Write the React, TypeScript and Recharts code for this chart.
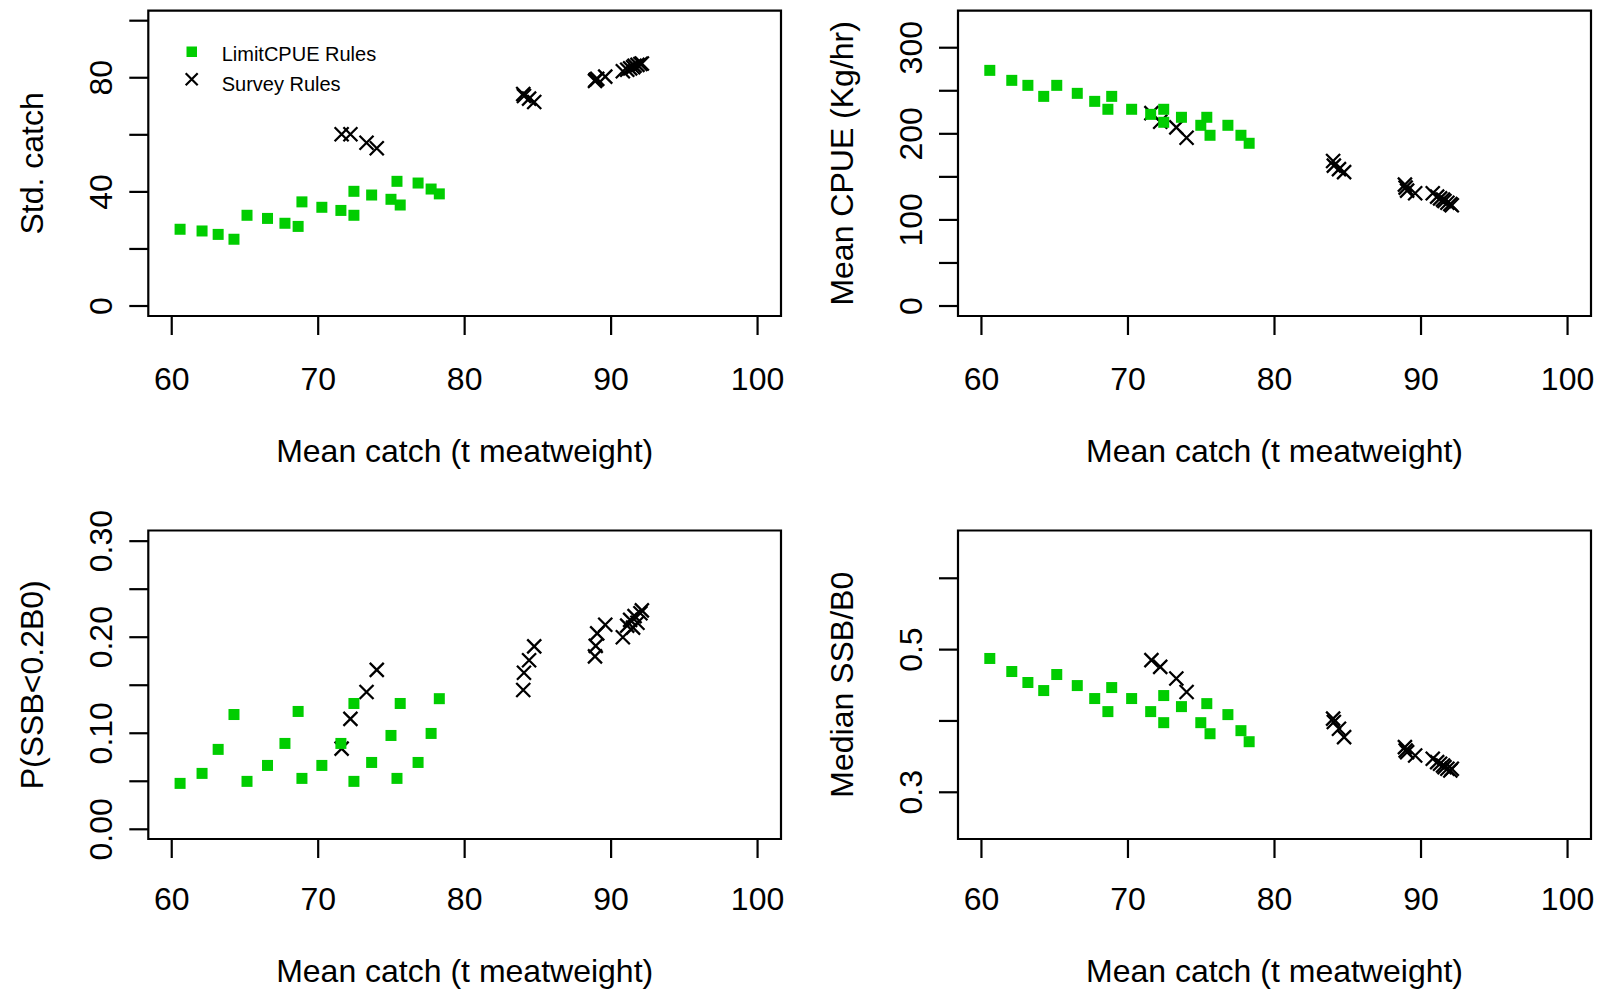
import { ScatterChart, Scatter, XAxis, YAxis, ReferenceArea, Legend } from 'recharts';

const FONT = '"Liberation Sans", Arial, Helvetica, sans-serif';
const GREEN = '#00CD00';
const LIMIT_NAME = 'LimitCPUE Rules';
const SURVEY_NAME = 'Survey Rules';
const X_TITLE = 'Mean catch (t meatweight)';

// LimitCPUE rules
const limitCatch = [60.57, 62.07, 63.17, 64.25, 65.14, 66.54, 67.73, 68.63, 68.89, 70.25, 71.55, 72.44, 72.44, 73.65, 74.97, 75.38, 75.6, 76.82, 77.71, 78.27];
const limitStd = [26.9, 26.3, 25.1, 23.4, 31.8, 30.7, 29.0, 27.9, 36.5, 34.6, 33.5, 40.2, 31.8, 38.9, 37.4, 43.7, 35.4, 43.1, 41.0, 39.3];
const limitCpue = [273.7, 262.1, 256.3, 243.5, 256.3, 247, 237.7, 228.5, 243.5, 228.5, 222.6, 228.5, 213.4, 219.2, 209.9, 219.2, 198.3, 209.9, 198.3, 189];
const limitPLow = [0.0478, 0.0582, 0.0832, 0.1195, 0.0499, 0.0665, 0.0894, 0.1227, 0.053, 0.0665, 0.0894, 0.131, 0.0499, 0.0696, 0.0977, 0.053, 0.131, 0.0696, 0.0998, 0.136];
const limitSsb = [0.4876, 0.4693, 0.4539, 0.4426, 0.4651, 0.4496, 0.4314, 0.4131, 0.4468, 0.4314, 0.4131, 0.4356, 0.3976, 0.4201, 0.3976, 0.4243, 0.3821, 0.4089, 0.3864, 0.3709];

// Survey rules
const surveyCatch = [71.6, 72.2, 73.3, 74.0, 84.0, 84.05, 84.4, 84.75, 88.9, 88.95, 89.05, 89.6, 90.8, 91.1, 91.3, 91.5, 91.6, 91.8, 92.0, 92.1];
const surveyStd = [60.2, 60.2, 57.2, 55.3, 74.3, 73.6, 72.7, 71.5, 78.9, 79.3, 79.6, 80.4, 82.3, 82.8, 83.3, 83.7, 84.2, 84.5, 84.8, 85.0];
const surveyCpue = [224, 214, 207.5, 195.5, 168.5, 163, 159, 155.5, 141, 137.5, 134, 131, 131, 127, 125, 123.5, 122, 120, 118.5, 117];
const surveyPLow = [0.084, 0.115, 0.143, 0.166, 0.145, 0.163, 0.176, 0.1905, 0.18, 0.191, 0.204, 0.213, 0.2, 0.212, 0.218, 0.21, 0.222, 0.215, 0.225, 0.228];
const surveySsb = [0.4852, 0.4758, 0.4595, 0.4406, 0.4032, 0.3985, 0.3891, 0.3774, 0.3633, 0.3586, 0.3563, 0.3516, 0.347, 0.3422, 0.34, 0.3375, 0.3352, 0.3329, 0.3305, 0.333];

const xTicks = [60, 70, 80, 90, 100];
const xDomain = [58.4, 101.6];

const zip = (xs: number[], ys: number[]) => xs.map((x, i) => ({ x, y: ys[i] }));

const Square = (p: any) => <rect x={p.cx - 5.5} y={p.cy - 5.5} width={11} height={11} fill={GREEN} />;
const Cross = (p: any) => (
  <path
    d={`M${p.cx - 7},${p.cy - 7}L${p.cx + 7},${p.cy + 7}M${p.cx + 7},${p.cy - 7}L${p.cx - 7},${p.cy + 7}`}
    stroke="#000"
    strokeWidth={2.3}
    fill="none"
  />
);

const XTick = ({ x, y, payload, off }: any) => (
  <text x={x} y={y + off} textAnchor="middle" fontSize={32} fontFamily={FONT} fill="#000">
    {payload.value}
  </text>
);

const YTick = ({ x, y, index, labels }: any) =>
  labels[index] ? (
    <text transform={`translate(${x - 17.3},${y}) rotate(-90)`} textAnchor="middle" fontSize={32} fontFamily={FONT} fill="#000">
      {labels[index]}
    </text>
  ) : (
    <g />
  );

const LegendBox = () => (
  <svg width={260} height={72}>
    <rect x={16.5} y={16.5} width={10.5} height={10.5} fill={GREEN} />
    <path d="M15.7,43.3L27.7,55.3M27.7,43.3L15.7,55.3" stroke="#000" strokeWidth={2.2} />
    <text x={51.7} y={30.7} fontSize={20} fontFamily={FONT} fill="#000">{LIMIT_NAME}</text>
    <text x={51.7} y={61} fontSize={20} fontFamily={FONT} fill="#000">{SURVEY_NAME}</text>
  </svg>
);

type Box = { l: number; r: number; t: number; b: number };

function Panel(props: {
  left: number;
  top: number;
  width: number;
  height: number;
  box: Box;
  yDomain: number[];
  yTicks: number[];
  yLabels: string[];
  yTitle: string;
  limitY: number[];
  surveyY: number[];
  tickOff: number;
  titleOff: number;
  legend?: boolean;
}) {
  const { left, top, width, height, box, yDomain, yTicks, yLabels, yTitle, limitY, surveyY, tickOff, titleOff, legend } = props;
  return (
    <div style={{ position: 'absolute', left, top }}>
      <ScatterChart width={width} height={height} margin={{ top: box.t, right: width - box.r, left: 0, bottom: 0 }}>
        <XAxis
          type="number"
          dataKey="x"
          domain={xDomain}
          ticks={xTicks}
          interval={0}
          allowDataOverflow
          height={height - box.b}
          axisLine={false}
          tickSize={19}
          tickMargin={0}
          tickLine={{ stroke: '#000', strokeWidth: 2.2 }}
          tick={(p: any) => <XTick {...p} off={tickOff} />}
          label={{
            content: () => (
              <text x={(box.l + box.r) / 2} y={box.b + titleOff} textAnchor="middle" fontSize={32} fontFamily={FONT} fill="#000">
                {X_TITLE}
              </text>
            ),
          }}
        />
        <YAxis
          type="number"
          dataKey="y"
          domain={yDomain}
          ticks={yTicks}
          interval={0}
          allowDataOverflow
          width={box.l}
          axisLine={false}
          tickSize={19}
          tickMargin={0}
          tickLine={{ stroke: '#000', strokeWidth: 2.2 }}
          tick={(p: any) => <YTick {...p} labels={yLabels} />}
          label={{
            content: () => (
              <text
                transform={`translate(${box.l - 105},${(box.t + box.b) / 2}) rotate(-90)`}
                textAnchor="middle"
                fontSize={32}
                fontFamily={FONT}
                fill="#000"
              >
                {yTitle}
              </text>
            ),
          }}
        />
        <ReferenceArea
          x1={xDomain[0]}
          x2={xDomain[1]}
          y1={yDomain[0]}
          y2={yDomain[1]}
          fill="none"
          stroke="#000"
          strokeWidth={2.2}
          ifOverflow="visible"
        />
        <Scatter name={SURVEY_NAME} data={zip(surveyCatch, surveyY)} shape={Cross} isAnimationActive={false} />
        <Scatter name={LIMIT_NAME} data={zip(limitCatch, limitY)} shape={Square} isAnimationActive={false} />
        {legend && (
          <Legend
            layout="vertical"
            align="center"
            verticalAlign="middle"
            content={() => <LegendBox />}
            wrapperStyle={{ left: 170, top: 30, width: 260, height: 72 }}
          />
        )}
      </ScatterChart>
    </div>
  );
}

export default function App() {
  const topBox = { l: 148.3, r: 781, t: 10.7, b: 316 };
  const topBoxR = { l: 158, r: 791, t: 10.7, b: 316 };
  const botBox = { l: 148.3, r: 781, t: 35.5, b: 344 };
  const botBoxR = { l: 158, r: 791, t: 35.5, b: 344 };
  return (
    <div style={{ position: 'absolute', left: 0, top: 0, width: 1601, height: 990, background: '#fff', overflow: 'hidden' }}>
      <Panel
        left={0}
        top={0}
        width={800}
        height={495}
        box={topBox}
        yDomain={[-3.5, 103.5]}
        yTicks={[0, 20, 40, 60, 80, 100]}
        yLabels={['0', '', '40', '', '80', '']}
        yTitle="Std. catch"
        limitY={limitStd}
        surveyY={surveyStd}
        tickOff={55}
        titleOff={145.7}
        legend
      />
      <Panel
        left={800}
        top={0}
        width={801}
        height={495}
        box={topBoxR}
        yDomain={[-11.6, 343]}
        yTicks={[0, 50, 100, 150, 200, 250, 300]}
        yLabels={['0', '', '100', '', '200', '', '300']}
        yTitle="Mean CPUE (Kg/hr)"
        limitY={limitCpue}
        surveyY={surveyCpue}
        tickOff={55}
        titleOff={145.7}
      />
      <Panel
        left={0}
        top={495}
        width={800}
        height={495}
        box={botBox}
        yDomain={[-0.0101, 0.3111]}
        yTicks={[0, 0.05, 0.1, 0.15, 0.2, 0.25, 0.3]}
        yLabels={['0.00', '', '0.10', '', '0.20', '', '0.30']}
        yTitle="P(SSB<0.2B0)"
        limitY={limitPLow}
        surveyY={surveyPLow}
        tickOff={52}
        titleOff={142.7}
      />
      <Panel
        left={800}
        top={495}
        width={801}
        height={495}
        box={botBoxR}
        yDomain={[0.2345, 0.667]}
        yTicks={[0.3, 0.4, 0.5, 0.6]}
        yLabels={['0.3', '', '0.5', '']}
        yTitle="Median SSB/B0"
        limitY={limitSsb}
        surveyY={surveySsb}
        tickOff={52}
        titleOff={142.7}
      />
    </div>
  );
}
